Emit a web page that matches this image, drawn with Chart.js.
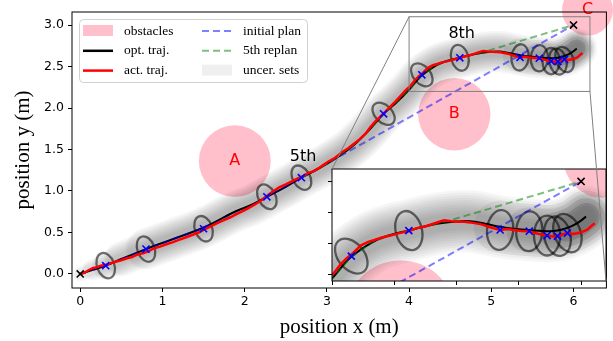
<!DOCTYPE html>
<html>
<head>
<meta charset="utf-8">
<script src="https://cdn.jsdelivr.net/npm/chart.js@4.4.1/dist/chart.umd.min.js"></script>
<style>
html, body { margin: 0; padding: 0; background: #fff; }
#wrap { position: relative; width: 613px; height: 341px; }
#wrap canvas { position: absolute; left: 0; top: 0; }
</style>
</head>
<body>
<div id="wrap">
  <canvas id="main" width="613" height="341"></canvas>
  <canvas id="inset" width="613" height="341"></canvas>
</div>
<script>
// ticks
const xTicks = [0, 1, 2, 3, 4, 5, 6];
const yTicks = [0, 0.5, 1, 1.5, 2, 2.5, 3];
const insetXTicks = [4, 4.5, 5, 5.5, 6];
const insetYTicks = [2.25, 2.5, 2.75, 3];

// obstacles (m)
const obsName = ['A', 'B', 'C'];
const obsX = [1.88, 4.55, 6.17];
const obsY = [1.36, 1.925, 3.18];
const obsR = [0.437, 0.44, 0.31];

// start and goal
const endX = [0, 6];
const endY = [0, 3];

// optimal trajectory
const optX = [0, 0.15, 0.31, 0.5, 0.8, 1.1, 1.5, 1.88, 2.1, 2.27, 2.5, 2.69, 2.9, 3.1, 3.3, 3.5, 3.69, 3.85, 4.0, 4.15,
  4.33, 4.47, 4.62, 4.75, 4.87, 5.0, 5.11, 5.23, 5.35, 5.46, 5.58, 5.73, 5.81, 5.89, 5.97, 6.04];
const optY = [0, 0.05, 0.1, 0.18, 0.3, 0.41, 0.56, 0.75, 0.84, 0.93, 1.05, 1.16, 1.27, 1.39, 1.53, 1.72, 1.93, 2.07, 2.22, 2.39,
  2.515, 2.57, 2.607, 2.64, 2.664, 2.678, 2.68, 2.66, 2.636, 2.62, 2.61, 2.60, 2.605, 2.627, 2.665, 2.717];

// actual trajectory
const actX = [0, 0.05, 0.1, 0.15, 0.2, 0.25, 0.31, 0.37, 0.44, 0.5, 0.57, 0.63, 0.7, 0.76, 0.82, 0.9, 0.97, 1.04, 1.12, 1.2,
  1.28, 1.36, 1.44, 1.5, 1.58, 1.66, 1.74, 1.82, 1.9, 1.97, 2.04, 2.12, 2.2, 2.27, 2.34, 2.42, 2.5, 2.58, 2.64, 2.7,
  2.77, 2.84, 2.9, 2.96, 3.02, 3.1, 3.18, 3.26, 3.33, 3.4, 3.47, 3.53, 3.59, 3.65, 3.7, 3.76, 3.83, 3.9, 3.96, 4.02,
  4.07, 4.12, 4.17, 4.23, 4.29, 4.34, 4.4, 4.47, 4.54, 4.62, 4.68, 4.74, 4.79, 4.85, 4.9, 4.96, 5.01, 5.06, 5.11, 5.2,
  5.27, 5.35, 5.41, 5.46, 5.52, 5.58, 5.63, 5.68, 5.73, 5.77, 5.81, 5.85, 5.89, 5.93, 5.97, 6.01, 6.05, 6.08, 6.11];
const actY = [0, 0.015, 0.045, 0.07, 0.08, 0.1, 0.11, 0.13, 0.15, 0.165, 0.19, 0.205, 0.235, 0.25, 0.27, 0.31, 0.33, 0.355, 0.38, 0.41,
  0.44, 0.47, 0.5, 0.53, 0.57, 0.61, 0.645, 0.68, 0.72, 0.755, 0.79, 0.835, 0.885, 0.94, 0.99, 1.045, 1.08, 1.12, 1.15, 1.175,
  1.215, 1.24, 1.275, 1.315, 1.355, 1.4, 1.465, 1.515, 1.57, 1.625, 1.69, 1.77, 1.84, 1.895, 1.945, 2.005, 2.075, 2.15, 2.215, 2.27,
  2.335, 2.385, 2.425, 2.485, 2.515, 2.53, 2.55, 2.565, 2.585, 2.602, 2.625, 2.636, 2.652, 2.672, 2.688, 2.68, 2.677, 2.676, 2.671, 2.655,
  2.632, 2.61, 2.617, 2.61, 2.602, 2.6, 2.586, 2.574, 2.566, 2.558, 2.562, 2.574, 2.586, 2.578, 2.584, 2.595, 2.612, 2.64, 2.664];

// initial plan
const initX = [0, 0.31, 0.8, 1.5, 2.0, 2.27, 2.69, 3.0, 6.0];
const initY = [0, 0.1, 0.3, 0.555, 0.77, 0.93, 1.16, 1.33, 3.0];

// 5th replan
const repX = [2.69, 2.9, 3.1, 3.3, 3.5, 3.69, 3.85, 4.0, 4.15, 4.33, 4.47, 4.62, 4.75, 4.87, 6.0];
const repY = [1.16, 1.27, 1.39, 1.53, 1.72, 1.93, 2.07, 2.22, 2.39, 2.515, 2.57, 2.607, 2.64, 2.664, 3.0];

// replan points, with heading of the path there (deg)
const mkX = [0.31, 0.8, 1.5, 2.27, 2.69, 3.69, 4.155, 4.617, 5.35, 5.584, 5.727, 5.81, 5.89];
const mkY = [0.10, 0.30, 0.545, 0.93, 1.16, 1.93, 2.40, 2.605, 2.61, 2.60, 2.565, 2.56, 2.585];
const mkHead = [20, 20, 20, 28, 30, 45, 40, 15, -6, -3, 0, 12, 22];

// annotations
const noteText = ['5th', '8th'];
const noteX = [2.71, 4.64];
const noteY = [1.41, 2.89];

const insetLim = { x: [4.0, 6.2], y: [2.2, 3.1] };

// uncertainty set look (m): outline half axes, shaded tube layers
const setAlong = 0.105, setAcross = 0.16;
const tubeLayers = [
  { w: 0.50, a: 0.036, from: 4 },
  { w: 0.46, a: 0.036, from: 4 },
  { w: 0.42, a: 0.036, from: 3 },
  { w: 0.38, a: 0.036, from: 3 },
  { w: 0.34, a: 0.036, from: 2 },
  { w: 0.30, a: 0.036, from: 2 },
  { w: 0.26, a: 0.036, from: 1 },
  { w: 0.22, a: 0.036, from: 1 },
  { w: 0.18, a: 0.036, from: 0 },
  { w: 0.14, a: 0.036, from: 0 },
  { w: 0.42, a: 0.05, from: 28 },
  { w: 0.36, a: 0.07, from: 30 },
  { w: 0.30, a: 0.1, from: 32 },
  { w: 0.22, a: 0.12, from: 33 }
];

function pts(xs, ys) { return xs.map((v, i) => ({ x: v, y: ys[i] })); }
function ppu(chart) {
  const s = chart.scales.x;
  return Math.abs(s.getPixelForValue(1) - s.getPixelForValue(0));
}

function line(xs, ys, color, w, dash, tension) {
  return { data: pts(xs, ys), showLine: true, pointRadius: 0, borderColor: color, borderWidth: w,
    borderDash: dash || [], tension: tension, clip: 0 };
}
function marks(xs, ys, color) {
  return { data: pts(xs, ys), showLine: false, pointStyle: 'crossRot', pointRadius: 5,
    pointBorderColor: color, pointBorderWidth: 1.6, clip: 0 };
}

function buildDatasets(obsClip) {
  const list = [];   // bottom to top
  list.push({ data: pts(obsX, obsY), showLine: false, pointRadius: c => obsR[c.dataIndex] * ppu(c.chart),
    pointBackgroundColor: 'pink', pointBorderWidth: 0, clip: obsClip });
  tubeLayers.forEach((l, i) => list.push({
    data: pts(optX.slice(l.from), optY.slice(l.from)), showLine: true, pointRadius: 0, tension: 0.4,
    borderColor: 'rgba(0,0,0,' + l.a + ')', borderWidth: c => l.w * ppu(c.chart),
    borderCapStyle: 'round', borderJoinStyle: 'round', clip: 0,
    setsOnTop: i === tubeLayers.length - 1
  }));
  list.push(line(optX, optY, '#000', 2, null, 0.4));
  list.push(line(initX, initY, 'rgba(0,0,255,0.5)', 2, [7, 4], 0));
  list.push(line(repX, repY, 'rgba(0,128,0,0.5)', 2, [7, 4], 0));
  list.push(line(actX, actY, 'red', 2.5, null, 0));
  list.push(marks(mkX, mkY, 'blue'));
  list.push(marks(endX, endY, '#000'));
  return list.reverse();
}

// outlined uncertainty sets at the replan points
const setsPlugin = {
  id: 'uncerSets',
  afterDatasetDraw(chart, args) {
    if (!chart.data.datasets[args.index].setsOnTop) return;
    const { ctx, chartArea: a, scales: { x, y } } = chart;
    const k = ppu(chart);
    ctx.save();
    ctx.beginPath();
    ctx.rect(a.left, a.top, a.right - a.left, a.bottom - a.top);
    ctx.clip();
    ctx.strokeStyle = 'rgba(0,0,0,0.55)';
    ctx.lineWidth = 2.3;
    mkX.forEach((v, i) => {
      ctx.beginPath();
      ctx.ellipse(x.getPixelForValue(v), y.getPixelForValue(mkY[i]), setAlong * k, setAcross * k,
        -mkHead[i] * Math.PI / 180, 0, 2 * Math.PI);
      ctx.stroke();
    });
    ctx.restore();
  }
};

const legendItems = [
  { text: 'obstacles', kind: 'patch', color: 'pink' },
  { text: 'opt. traj.', kind: 'line', color: '#000' },
  { text: 'act. traj.', kind: 'line', color: 'red' },
  { text: 'initial plan', kind: 'dash', color: 'rgba(0,0,255,0.5)' },
  { text: '5th replan', kind: 'dash', color: 'rgba(0,128,0,0.5)' },
  { text: 'uncer. sets', kind: 'patch', color: '#efefef' }
];

function drawLegend(chart) {
  const ctx = chart.ctx;
  const L = chart.chartArea.left + 7, T = chart.chartArea.top + 7;
  ctx.save();
  ctx.beginPath();
  if (ctx.roundRect) ctx.roundRect(L + 0.5, T + 0.5, 228, 63, 4); else ctx.rect(L + 0.5, T + 0.5, 228, 63);
  ctx.fillStyle = 'rgba(255,255,255,0.8)';
  ctx.fill();
  ctx.strokeStyle = '#d0d0d0';
  ctx.lineWidth = 1;
  ctx.stroke();
  ctx.font = '13.5px "Liberation Serif"';
  ctx.textBaseline = 'middle';
  ctx.textAlign = 'left';
  legendItems.forEach((it, i) => {
    const col = Math.floor(i / 3), row = i % 3;
    const hx = L + 4 + col * 119, ry = T + 12 + row * 19.8;
    if (it.kind === 'patch') {
      ctx.fillStyle = it.color;
      ctx.fillRect(hx, ry - 6, 30, 11);
    } else {
      ctx.beginPath();
      ctx.setLineDash(it.kind === 'dash' ? [7, 4] : []);
      ctx.strokeStyle = it.color;
      ctx.lineWidth = it.kind === 'dash' ? 2 : 2.5;
      ctx.moveTo(hx, ry);
      ctx.lineTo(hx + 30, ry);
      ctx.stroke();
      ctx.setLineDash([]);
    }
    ctx.fillStyle = '#000';
    ctx.fillText(it.text, hx + 41, ry);
  });
  ctx.restore();
}

const mainDecor = {
  id: 'mainDecor',
  afterDatasetsDraw(chart) {
    const { ctx, chartArea: a, scales: { x, y } } = chart;
    ctx.save();
    const x0 = x.getPixelForValue(insetLim.x[0]), x1 = x.getPixelForValue(insetLim.x[1]);
    const y0 = y.getPixelForValue(insetLim.y[0]), y1 = y.getPixelForValue(insetLim.y[1]);
    ctx.strokeStyle = '#808080';
    ctx.lineWidth = 1;
    ctx.strokeRect(x0, y1, x1 - x0, y0 - y1);
    ctx.font = '16px "DejaVu Sans"';
    ctx.textAlign = 'center';
    ctx.textBaseline = 'middle';
    ctx.fillStyle = 'red';
    obsName.forEach((t, i) => ctx.fillText(t, x.getPixelForValue(obsX[i]), y.getPixelForValue(obsY[i])));
    ctx.fillStyle = '#000';
    noteText.forEach((t, i) => ctx.fillText(t, x.getPixelForValue(noteX[i]), y.getPixelForValue(noteY[i])));
    ctx.strokeStyle = '#000';
    ctx.strokeRect(a.left, a.top, a.right - a.left, a.bottom - a.top);
    ctx.restore();
    drawLegend(chart);
  }
};

const tickFont = { family: 'DejaVu Sans', size: 12.5 };
const titleFont = { family: 'Liberation Serif', size: 21 };

const mainChart = new Chart(document.getElementById('main'), {
  type: 'scatter',
  data: { datasets: buildDatasets(false) },
  options: {
    responsive: false, animation: false, devicePixelRatio: 1, events: [],
    layout: { padding: { left: 0, top: 12, right: 1, bottom: 0 } },
    plugins: { legend: { display: false }, tooltip: { enabled: false } },
    scales: {
      x: {
        min: -0.1, max: 6.4,
        afterBuildTicks: s => { s.ticks = xTicks.map(v => ({ value: v })); },
        afterFit: s => { s.height = 53; },
        ticks: { font: tickFont, color: '#000', padding: 2, autoSkip: false, maxRotation: 0, callback: v => String(v) },
        grid: { drawOnChartArea: false, tickLength: 4, color: '#000' },
        border: { display: false },
        title: { display: true, text: 'position x (m)', font: titleFont, color: '#000', padding: { top: 0, bottom: 1 } }
      },
      y: {
        min: -0.169, max: 3.157,
        afterBuildTicks: s => { s.ticks = yTicks.map(v => ({ value: v })); },
        afterFit: s => { s.width = 72; },
        ticks: { font: tickFont, color: '#000', padding: 4, autoSkip: false, callback: v => v.toFixed(1) },
        grid: { drawOnChartArea: false, tickLength: 4, color: '#000' },
        border: { display: false },
        title: { display: true, text: 'position y (m)', font: titleFont, color: '#000', padding: { top: 11, bottom: 0 } }
      }
    }
  },
  plugins: [setsPlugin, mainDecor]
});

const insetDecor = {
  id: 'insetDecor',
  beforeDraw(chart) {
    const { ctx, chartArea: a } = chart;
    ctx.save();
    ctx.fillStyle = '#fff';
    ctx.fillRect(a.left, a.top, a.right - a.left, a.bottom - a.top);
    ctx.restore();
  },
  afterDraw(chart) {
    const { ctx, chartArea: a } = chart;
    const mx = mainChart.scales.x, my = mainChart.scales.y;
    ctx.save();
    ctx.strokeStyle = '#000';
    ctx.lineWidth = 1;
    ctx.strokeRect(a.left, a.top, a.right - a.left, a.bottom - a.top);
    ctx.strokeStyle = '#808080';
    ctx.beginPath();
    ctx.moveTo(mx.getPixelForValue(insetLim.x[0]), my.getPixelForValue(insetLim.y[1]));
    ctx.lineTo(a.left, a.top);
    ctx.moveTo(mx.getPixelForValue(insetLim.x[1]), my.getPixelForValue(insetLim.y[0]));
    ctx.lineTo(a.right, a.bottom);
    ctx.stroke();
    ctx.restore();
  }
};

new Chart(document.getElementById('inset'), {
  type: 'scatter',
  data: { datasets: buildDatasets(0) },
  options: {
    responsive: false, animation: false, devicePixelRatio: 1, events: [],
    layout: { padding: { left: 322, top: 169, right: 7, bottom: 50 } },
    plugins: { legend: { display: false }, tooltip: { enabled: false } },
    scales: {
      x: {
        min: insetLim.x[0], max: insetLim.x[1],
        afterBuildTicks: s => { s.ticks = insetXTicks.map(v => ({ value: v })); },
        afterFit: s => { s.height = 10; },
        ticks: { display: false },
        grid: { drawOnChartArea: false, tickLength: 4, color: '#000' },
        border: { display: false }
      },
      y: {
        min: insetLim.y[0], max: insetLim.y[1],
        afterBuildTicks: s => { s.ticks = insetYTicks.map(v => ({ value: v })); },
        afterFit: s => { s.width = 10; },
        ticks: { display: false },
        grid: { drawOnChartArea: false, tickLength: 4, color: '#000' },
        border: { display: false }
      }
    }
  },
  plugins: [setsPlugin, insetDecor]
});
</script>
</body>
</html>
